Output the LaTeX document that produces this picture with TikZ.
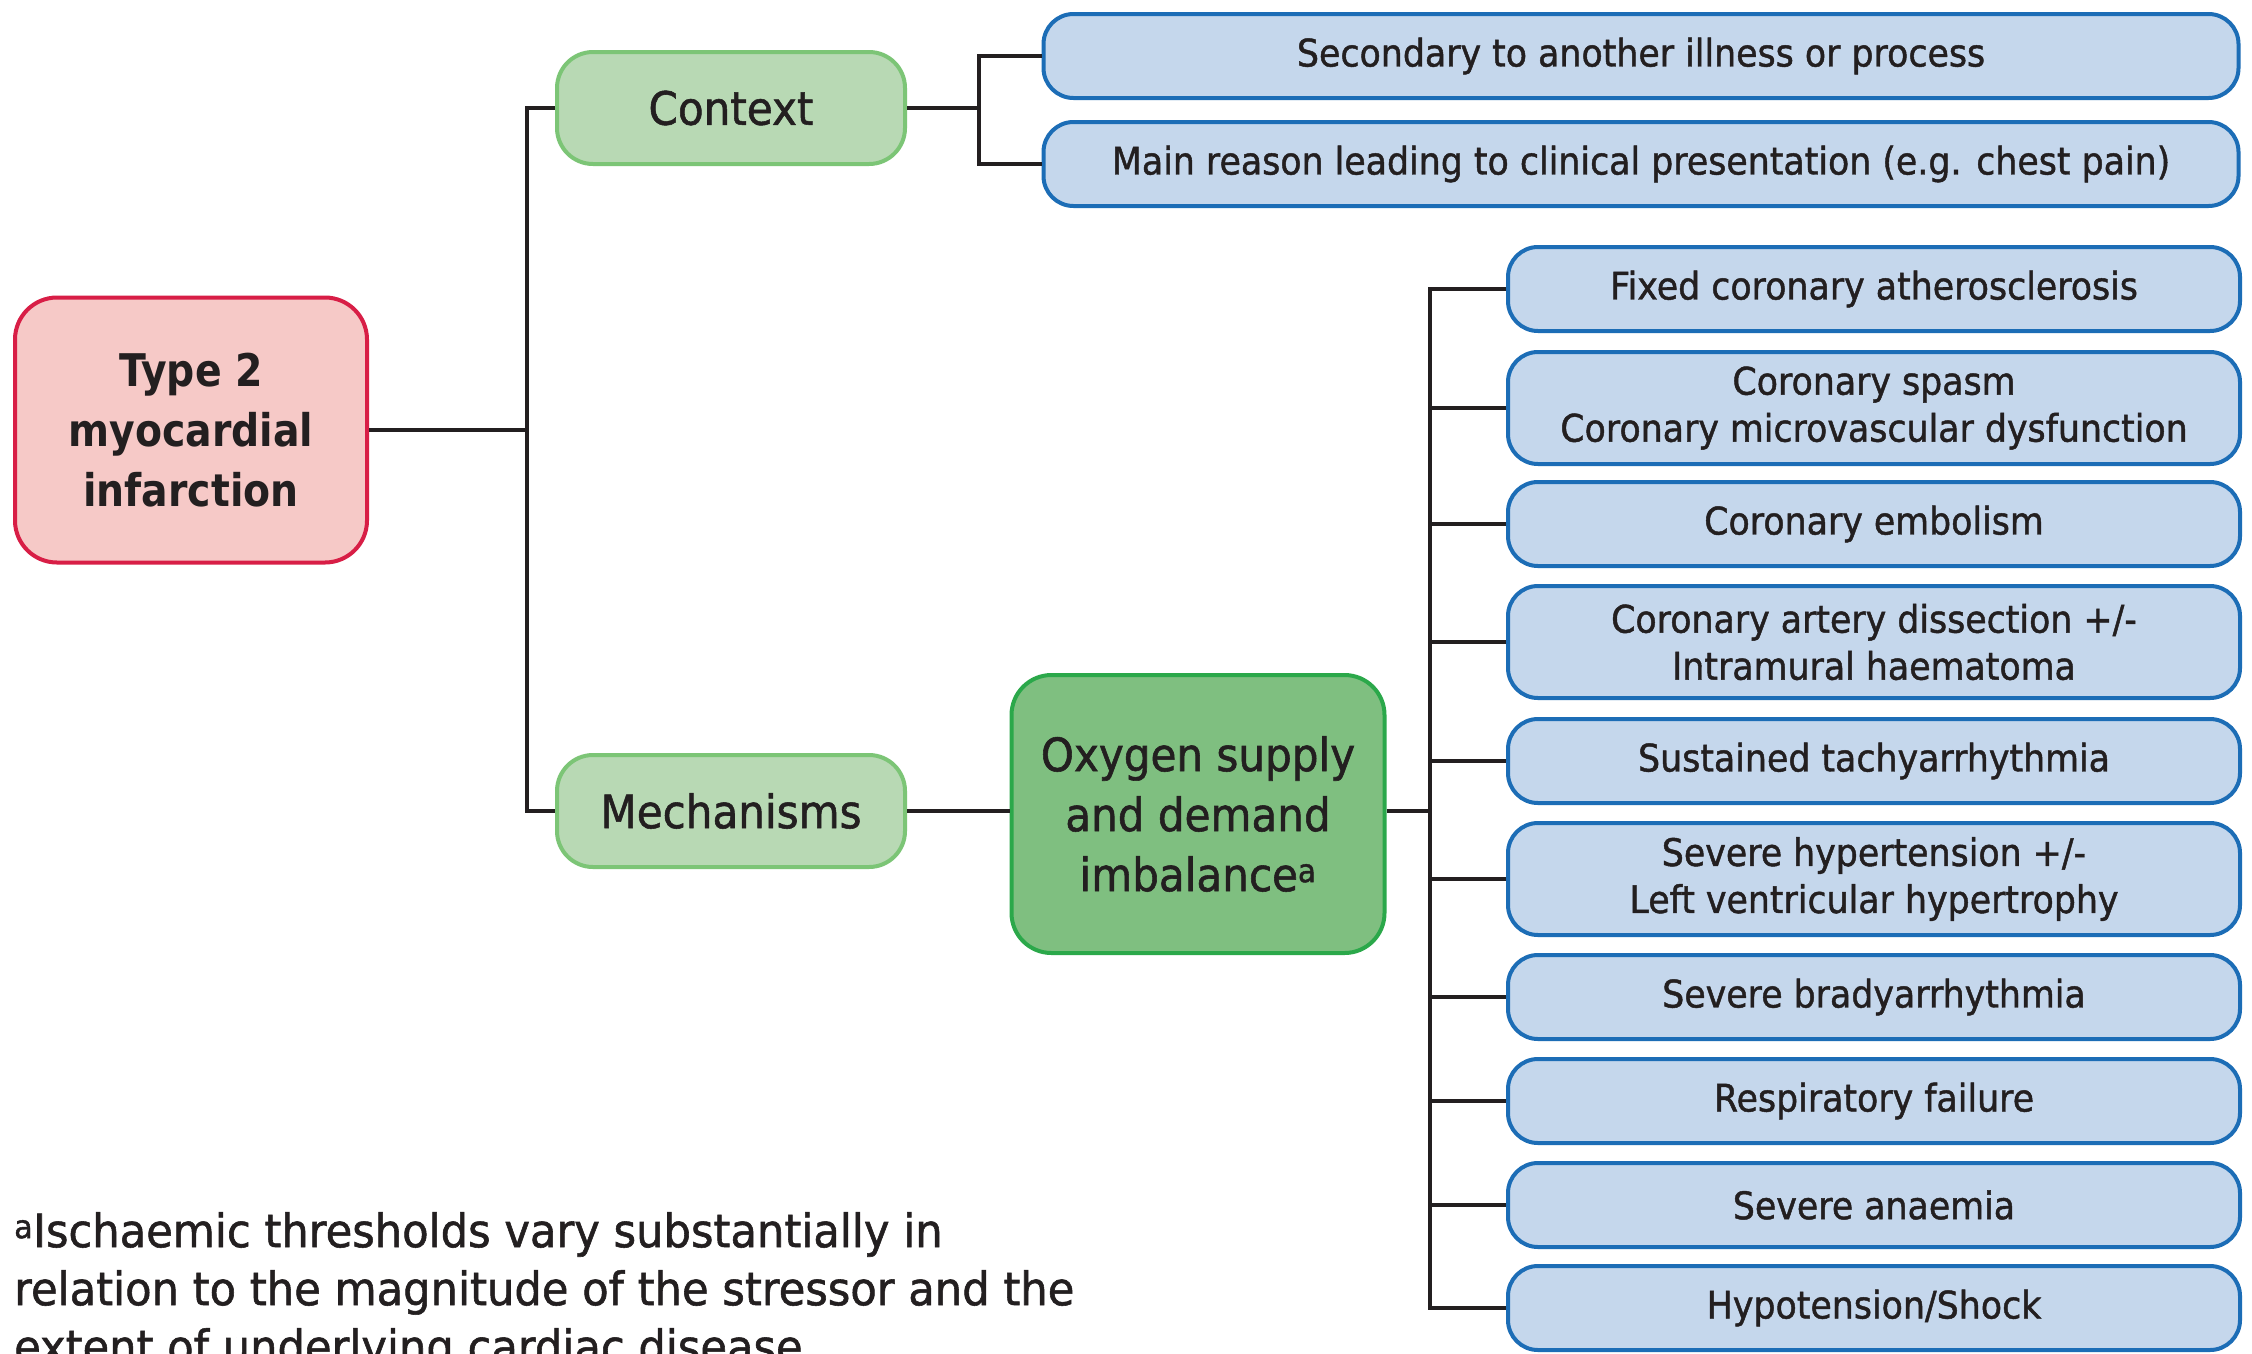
\documentclass[tikz,border=0pt]{standalone}
\usepackage{fontspec}
\setmainfont{DejaVu Sans}[FakeStretch=0.9]
\newfontfamily\medfont{DejaVu Sans}[FakeStretch=0.915, FakeBold=1.2]
\newfontfamily\notefont{DejaVu Sans}[FakeStretch=0.94, FakeBold=1.2]
\newfontfamily\heavyfont{DejaVu Sans Bold}[FakeStretch=0.875]
\definecolor{redB}{HTML}{D81E46}
\definecolor{redF}{HTML}{F6C9C7}
\definecolor{lgB}{HTML}{7CC576}
\definecolor{lgF}{HTML}{B8D9B4}
\definecolor{dgB}{HTML}{2BA84A}
\definecolor{dgF}{HTML}{7FBF80}
\definecolor{blB}{HTML}{1C6DB6}
\definecolor{blF}{HTML}{C5D7EC}
\definecolor{ink}{HTML}{231F20}
\tikzset{
  box/.style={rounded corners=30pt, line width=4pt, align=center, inner sep=0pt, text=ink},
  bluebox/.style={box, draw=blB, fill=blF, font=\medfont\fontsize{38}{47}\selectfont},
  lgbox/.style={box, draw=lgB, fill=lgF, font=\medfont\fontsize{46}{60}\selectfont, minimum width=348pt, minimum height=112pt, rounded corners=36pt},
  conn/.style={line width=4.5pt, draw=ink}
}
\begin{document}
\begin{tikzpicture}[x=1pt,y=-1pt]
\useasboundingbox (0,0) rectangle (2252,1353);
\clip (0,0) rectangle (2252,1353);
\fill[white] (0,0) rectangle (2252,1353);

% main nodes
\node[box, draw=redB, fill=redF, font=\heavyfont\fontsize{45}{60}\selectfont, minimum width=352pt, minimum height=265pt, rounded corners=42pt] (t2) at (191,430) {\rule{0pt}{12pt}Type 2\\myocardial\\infarction};
\node[lgbox] (ctx) at (731,108) {Context};
\node[lgbox] (mech) at (731,811) {Mechanisms};
\node[box, draw=dgB, fill=dgF, font=\medfont\fontsize{46}{60}\selectfont, minimum width=373pt, minimum height=278pt, rounded corners=40pt] (oxy) at (1198,814) {Oxygen supply\\and demand\\imbalance\textsuperscript{a}};

% context children
\node[bluebox, minimum width=1195pt, minimum height=84pt] (s1) at (1641,56) {Secondary to another illness or process};
\node[bluebox, minimum width=1195pt, minimum height=84pt] (s2) at (1641,164) {Main reason leading to clinical presentation (e.g. chest pain)};

% mechanism children
\node[bluebox, minimum width=732pt, minimum height=84pt] (r1) at (1874,289) {Fixed coronary atherosclerosis};
\node[bluebox, minimum width=732pt, minimum height=112pt] (r2) at (1874,408) {Coronary spasm\\Coronary microvascular dysfunction};
\node[bluebox, minimum width=732pt, minimum height=84pt] (r3) at (1874,524) {Coronary embolism};
\node[bluebox, minimum width=732pt, minimum height=112pt] (r4) at (1874,642) {Coronary artery dissection +/-\\Intramural haematoma};
\node[bluebox, minimum width=732pt, minimum height=84pt] (r5) at (1874,761) {Sustained tachyarrhythmia};
\node[bluebox, minimum width=732pt, minimum height=112pt] (r6) at (1874,879) {Severe hypertension +/-\\Left ventricular hypertrophy};
\node[bluebox, minimum width=732pt, minimum height=84pt] (r7) at (1874,997) {Severe bradyarrhythmia};
\node[bluebox, minimum width=732pt, minimum height=84pt] (r8) at (1874,1101) {Respiratory failure};
\node[bluebox, minimum width=732pt, minimum height=84pt] (r9) at (1874,1205) {Severe anaemia};
\node[bluebox, minimum width=732pt, minimum height=84pt] (r10) at (1874,1308) {Hypotension/Shock};

% footnote
\node[anchor=north west, align=left, inner sep=0pt, text=ink, font=\notefont\fontsize{46}{58}\selectfont] (fn) at (14,1212) {\textsuperscript{a}Ischaemic thresholds vary substantially in\\relation to the magnitude of the stressor and the\\extent of underlying cardiac disease};

% connectors
\coordinate (j1) at (527,430);
\coordinate (j2) at (979,108);
\coordinate (j3) at (1430,811);
\draw[conn] (t2.east) -- (j1);
\draw[conn] (ctx.west) -| (j1) |- (mech.west);
\draw[conn] (ctx.east) -- (j2);
\draw[conn] (s1.west) -| (j2) |- (s2.west);
\draw[conn] (mech.east) -- (mech.east -| oxy.west);
\draw[conn] (oxy.east |- j3) -- (j3);
\draw[conn] (r1.west) -| (j3) |- (r10.west);
\foreach \n in {r2,r3,r4,r5,r6,r7,r8,r9}{
  \draw[conn] (\n.west) -- (\n.west -| j3);
}
\end{tikzpicture}
\end{document}
